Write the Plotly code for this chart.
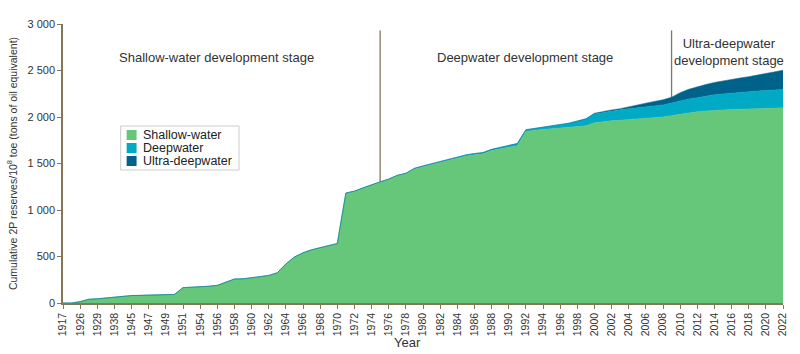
import plotly.graph_objects as go

# Categories (labelled years alternate with in-between years)
years = ["1917", "1925", "1926", "1927", "1929", "1935", "1938", "1943", "1945", "1946",
         "1947", "1948", "1949", "1950", "1951", "1953"] + [str(y) for y in range(1954, 2023)]
tick_labels = ["1917", "1926", "1929", "1938", "1945", "1947", "1949", "1951"] + \
              [str(y) for y in range(1954, 2023, 2)]

shallow = [0, 0, 15, 40, 45, 55, 65, 68, 80, 82,
           83, 85, 88, 92, 165, 168, 172, 180, 190, 225,
           258, 260, 272, 285, 296, 325, 420, 495, 540, 572,
           595, 615, 640, 1180, 1200, 1235, 1270, 1300, 1330, 1370,
           1392, 1440, 1466, 1490, 1512, 1530, 1555, 1580, 1595, 1605,
           1640, 1660, 1675, 1690, 1845, 1858, 1866, 1873, 1880, 1888,
           1897, 1905, 1937, 1950, 1960, 1966, 1972, 1978, 1984, 1992,
           2000, 2015, 2031, 2045, 2056, 2065, 2072, 2076, 2080, 2083,
           2086, 2090, 2093, 2096, 2099]
deep = [0] * 33 + [3, 3, 3, 3, 3, 3, 3, 3,
                   8, 8, 8, 8, 8, 8,
                   12, 12, 12, 12, 12, 12,
                   25, 18, 20, 25, 30, 38, 45, 60, 75, 95,
                   100, 105, 112, 117, 120, 125, 128, 130, 135, 143,
                   148, 152, 160, 167, 172, 177, 181, 185, 189, 192,
                   195, 197]
ultra = [0] * 62 + [8, 10, 11, 12, 18, 30, 40, 48, 55, 62,
                    88, 105, 118, 125, 133, 142, 150, 156, 163, 172,
                    182, 194, 207]

y_ticks = [0, 500, 1000, 1500, 2000, 2500, 3000]
y_tick_text = ["0", "500", "1 000", "1 500", "2 000", "2 500", "3 000"]

series = [("Shallow-water", shallow, "#66C67A"),
          ("Deepwater", deep, "#00AAC4"),
          ("Ultra-deepwater", ultra, "#00628A")]

axis_col = "#857658"
font_fam = "Liberation Sans, Arial, sans-serif"
txt_col = "#333333"

fig = go.Figure()
for name, vals, col in series:
    fig.add_trace(go.Scatter(x=years, y=vals, name=name, stackgroup="one", mode="lines",
                             line=dict(width=0.5, color=col), fillcolor=col, showlegend=False))

for yr in ["1975", "2009"]:
    xi = years.index(yr)
    fig.add_shape(type="line", xref="x", yref="y", x0=xi, x1=xi, y0=0, y1=2930,
                  line=dict(color=axis_col, width=1.3), layer="below")

# Compact legend box (drawn manually for the tight row spacing)
fig.add_shape(type="rect", xref="paper", yref="paper", x0=0.0801, x1=0.2445,
              y0=0.4767, y1=0.6344, line=dict(color="#cccccc", width=1), fillcolor="white")
leg_y = [0.6022, 0.5556, 0.5090]
for (name, vals, col), ly in zip(series, leg_y):
    fig.add_shape(type="rect", xref="paper", yref="paper", x0=0.0884, x1=0.1022,
                  y0=ly - 0.0179, y1=ly + 0.0179, line=dict(width=0), fillcolor=col)
    fig.add_annotation(text=name, xref="paper", yref="paper", x=0.1077, y=ly,
                       xanchor="left", yanchor="middle", showarrow=False,
                       font=dict(family=font_fam, size=12.5, color="#222222"))

ann_font = dict(family=font_fam, size=13, color=txt_col)
fig.add_annotation(text="Shallow-water development stage", xref="paper", yref="paper",
                   x=0.2127, y=0.881, xanchor="center", yanchor="middle",
                   showarrow=False, font=ann_font)
fig.add_annotation(text="Deepwater development stage", xref="paper", yref="paper",
                   x=0.641, y=0.881, xanchor="center", yanchor="middle",
                   showarrow=False, font=ann_font)
fig.add_annotation(text="Ultra-deepwater<br>development stage", xref="paper", yref="paper",
                   x=0.925, y=0.898, xanchor="center", yanchor="middle",
                   showarrow=False, font=ann_font)
fig.add_annotation(text="Year", xref="paper", yref="paper", x=0.479, y=-0.143,
                   xanchor="center", yanchor="middle", showarrow=False,
                   font=dict(family=font_fam, size=13, color=txt_col))

fig.update_layout(
    width=800, height=354,
    margin=dict(l=63, r=13, t=24, b=51),
    paper_bgcolor="white", plot_bgcolor="white",
    font=dict(family=font_fam, size=11, color=txt_col),
    showlegend=False,
    xaxis=dict(type="category", range=[0, len(years) - 1], tickmode="array",
               tickvals=tick_labels, ticktext=tick_labels, tickangle=-90,
               showgrid=False, zeroline=False, showline=True, linecolor=axis_col,
               linewidth=1.5, ticks="outside", ticklen=4, tickcolor=axis_col,
               tickfont=dict(size=10.5, color=txt_col)),
    yaxis=dict(range=[0, 3000], tickmode="array", tickvals=y_ticks, ticktext=y_tick_text,
               showgrid=False, zeroline=False, showline=True, linecolor=axis_col,
               linewidth=1.5, ticks="outside", ticklen=4, tickcolor=axis_col,
               tickfont=dict(size=11, color=txt_col),
               title=dict(text="Cumulative 2P reserves/10<sup>8</sup> toe (tons of oil equivalent)",
                          font=dict(size=10.5, color=txt_col), standoff=8)),
)

fig.write_html("out.html")
